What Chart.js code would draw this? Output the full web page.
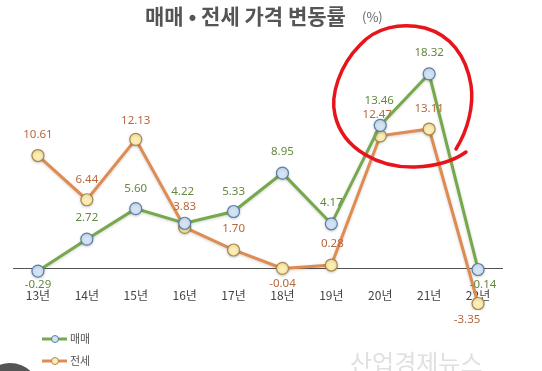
<!DOCTYPE html>
<html>
<head>
<meta charset="utf-8">
<script src="https://cdn.jsdelivr.net/npm/chart.js@4"></script>
<style>
  html, body { margin: 0; padding: 0; background: #fff; }
  #wrap { width: 542px; height: 371px; position: relative; }
</style>
</head>
<body>
<div id="wrap"><canvas id="rate-chart"></canvas></div>
<script>
const years = ["13년", "14년", "15년", "16년", "17년", "18년", "19년", "20년", "21년", "22년"];
const saleRates = [-0.29, 2.72, 5.60, 4.22, 5.33, 8.95, 4.17, 13.46, 18.32, -0.14];
const jeonseRates = [10.61, 6.44, 12.13, 3.83, 1.70, -0.04, 0.28, 12.47, 13.11, -3.35];

// label offsets from the point (px), styling only
const saleLabelDy = [14, -21, -20, -32, -20, -21, -21, -25, -21, 15];
const saleLabelDx = [0, 0, 0, -2, 0, 0, 0, -1, 0, 5];
const jeonseLabelDy = [-21, -20, -19, -21, -21, 15, -21, -21, -20, 16];
const jeonseLabelDx = [0, 0, 0, 0, 0, 0, 1, -3, 0, -11];

const GREEN = "#76a84c";
const ORANGE = "#de8c52";

const extras = {
  id: "extras",
  beforeDatasetsDraw(chart) {
    const ctx = chart.ctx;
    ctx.save();
    ctx.shadowColor = "rgba(0,0,0,0.18)";
    ctx.shadowBlur = 3;
    ctx.shadowOffsetY = 1;
  },
  afterDatasetsDraw(chart) {
    chart.ctx.restore();
  },
  afterDraw(chart) {
    const ctx = chart.ctx;
    ctx.save();

    // title
    ctx.textBaseline = "middle";
    ctx.textAlign = "left";
    ctx.fillStyle = "#555";
    ctx.font = "bold 21px 'Noto Sans CJK KR'";
    ctx.fillText("매매 • 전세 가격 변동률", 145, 16);
    ctx.fillStyle = "#666";
    ctx.font = "13px 'Noto Sans CJK KR'";
    ctx.fillText("(%)", 362, 17);

    // value labels
    ctx.textAlign = "center";
    ctx.font = "11.5px 'Noto Sans'";
    const sets = [
      { idx: 0, dy: saleLabelDy, dx: saleLabelDx, color: "#64883f", vals: saleRates },
      { idx: 1, dy: jeonseLabelDy, dx: jeonseLabelDx, color: "#b6673d", vals: jeonseRates }
    ];
    sets.forEach(s => {
      const meta = chart.getDatasetMeta(s.idx);
      ctx.fillStyle = s.color;
      meta.data.forEach((pt, i) => {
        ctx.fillText(s.vals[i].toFixed(2), pt.x + s.dx[i], pt.y + s.dy[i]);
      });
    });

    // legend
    const legend = [
      { label: "매매", color: GREEN, fill: "#d3e3f3", border: "#5b7fa6", y: 339 },
      { label: "전세", color: ORANGE, fill: "#fcedb2", border: "#a88850", y: 361 }
    ];
    legend.forEach(l => {
      ctx.strokeStyle = l.color;
      ctx.lineWidth = 3;
      ctx.beginPath();
      ctx.moveTo(42, l.y);
      ctx.lineTo(67, l.y);
      ctx.stroke();
      ctx.beginPath();
      ctx.arc(55, l.y, 3.5, 0, Math.PI * 2);
      ctx.fillStyle = l.fill;
      ctx.fill();
      ctx.lineWidth = 1;
      ctx.strokeStyle = l.border;
      ctx.stroke();
      ctx.fillStyle = "#555";
      ctx.textAlign = "left";
      ctx.font = "11px 'Noto Sans CJK KR'";
      ctx.fillText(l.label, 70, l.y);
    });

    // watermark
    ctx.fillStyle = "#e0e0e0";
    ctx.font = "24px 'Noto Sans CJK KR'";
    ctx.fillText("산업경제뉴스", 350, 363);

    // dark circle bottom left
    ctx.fillStyle = "#555";
    ctx.beginPath();
    ctx.arc(10, 393, 30, 0, Math.PI * 2);
    ctx.fill();

    // red hand drawn circle
    ctx.strokeStyle = "#e8141b";
    ctx.lineWidth = 3.5;
    ctx.lineCap = "round";
    ctx.lineJoin = "round";
    ctx.beginPath();
    ctx.moveTo(456, 149);
    ctx.bezierCurveTo(468, 130, 474, 105, 471, 85);
    ctx.bezierCurveTo(466, 55, 450, 35, 425, 28);
    ctx.bezierCurveTo(400, 22, 375, 28, 360, 45);
    ctx.bezierCurveTo(340, 65, 330, 95, 335, 115);
    ctx.bezierCurveTo(343, 150, 380, 168, 415, 167);
    ctx.bezierCurveTo(440, 166, 455, 160, 466, 152);
    ctx.stroke();

    ctx.restore();
  }
};

new Chart(document.getElementById("rate-chart"), {
  type: "line",
  data: {
    labels: years,
    datasets: [
      {
        label: "매매",
        data: saleRates,
        borderColor: GREEN,
        borderWidth: 3,
        pointRadius: 6,
        pointBorderWidth: 1.2,
        pointBackgroundColor: "#d3e3f3",
        pointBorderColor: "#5b7fa6",
        tension: 0
      },
      {
        label: "전세",
        data: jeonseRates,
        borderColor: ORANGE,
        borderWidth: 3,
        pointRadius: 6,
        pointBorderWidth: 1.2,
        pointBackgroundColor: "#fcedb2",
        pointBorderColor: "#a88850",
        tension: 0
      }
    ]
  },
  options: {
    responsive: true,
    maintainAspectRatio: false,
    animation: false,
    layout: { padding: { left: 13.5, right: 39.5, top: 56, bottom: 60.6 } },
    plugins: {
      legend: { display: false },
      tooltip: { enabled: false }
    },
    scales: {
      x: {
        offset: true,
        position: { y: 0 },
        grid: { display: false, drawTicks: false },
        border: { display: true, color: "#555", width: 1 },
        ticks: { color: "#444", padding: 20, font: { family: "'Noto Sans CJK KR'", size: 12 } },
        afterFit(scale) { scale.height = 0; }
      },
      y: {
        display: false,
        min: -4,
        max: 20
      }
    }
  },
  plugins: [extras]
});
</script>
</body>
</html>
